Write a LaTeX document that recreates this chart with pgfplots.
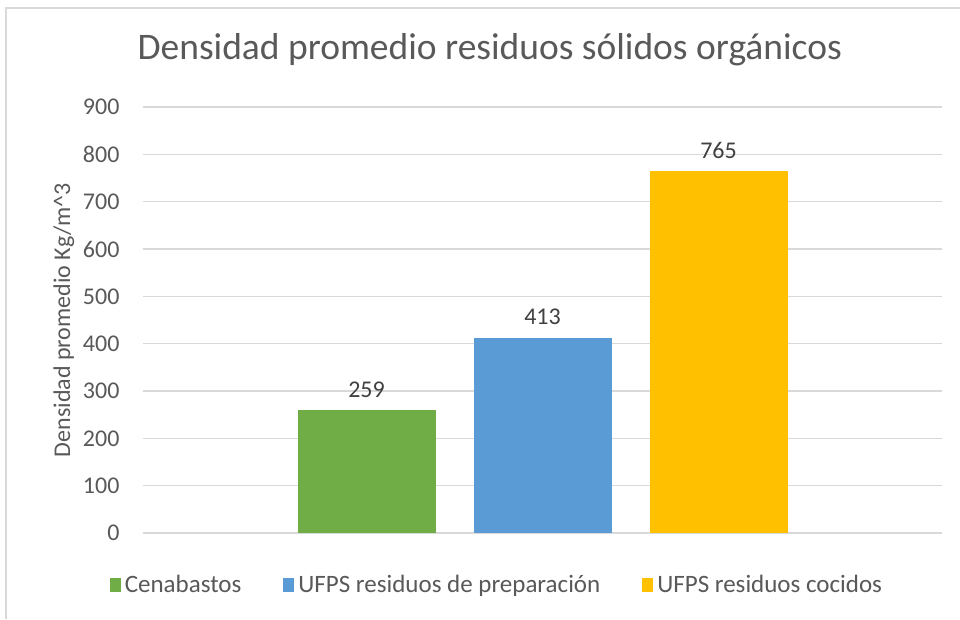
\documentclass[border=0pt]{standalone}
\usepackage{pgfplots}
\pgfplotsset{compat=1.18}
\usepackage{fontspec}
\setmainfont{Carlito}

\definecolor{cgreen}{HTML}{70AD47}
\definecolor{cblue}{HTML}{5B9BD5}
\definecolor{cyellow}{HTML}{FFC000}
\definecolor{gridc}{HTML}{D9D9D9}
\definecolor{textc}{HTML}{595959}
\definecolor{labelc}{HTML}{404040}

\begin{document}
\begin{tikzpicture}[x=1pt,y=1pt]
  \path[use as bounding box, fill=white] (0,0) rectangle (960,619);
  \draw[line width=2pt, color=gridc] (6,0) -- (6,611) -- (960,611);

  \begin{axis}[
    at={(143pt,86pt)}, anchor=south west,
    scale only axis, width=799pt, height=426pt,
    xmin=-1, xmax=1, ymin=0, ymax=900,
    xtick=\empty,
    ytick={0,100,...,900},
    ymajorgrids=true,
    grid style={line width=1.3pt, color=gridc},
    axis line style={draw=none},
    major tick length=0pt,
    /pgf/number format/assume math mode=true,
    yticklabel style={font=\fontsize{24}{28}\selectfont, color=textc, xshift=-20pt},
    every axis y label/.style={at={(axis description cs:-0.099,0.5)}, anchor=center, rotate=90,
      font=\fontsize{24}{28}\selectfont, color=textc},
    ylabel={Densidad promedio Kg/m\textasciicircum 3},
    title={Densidad promedio residuos sólidos orgánicos},
    title style={at={(axis description cs:0.434,1.12)}, anchor=center,
      font=\fontsize{37.5}{42}\selectfont, color=textc},
    ybar=38pt, bar width=138pt,
    nodes near coords,
    every node near coord/.append style={font=\fontsize{24}{28}\selectfont, color=labelc, yshift=9pt},
    legend columns=3,
    legend style={at={(axis description cs:0.443,-0.122)}, anchor=center, draw=none,
      font=\fontsize{25}{29}\selectfont, text=textc,
      /tikz/every even column/.append style={column sep=40pt}},
    legend image code/.code={\fill[#1] (0pt,-7pt) rectangle (11pt,7pt); \path (13pt,0pt);},
    clip=false,
  ]
    \addplot[fill=cgreen, draw=none] coordinates {(0,259)};
    \addplot[fill=cblue, draw=none] coordinates {(0,413)};
    \addplot[fill=cyellow, draw=none] coordinates {(0,765)};
    \legend{Cenabastos, UFPS residuos de preparación, UFPS residuos cocidos}
  \end{axis}
\end{tikzpicture}
\end{document}
